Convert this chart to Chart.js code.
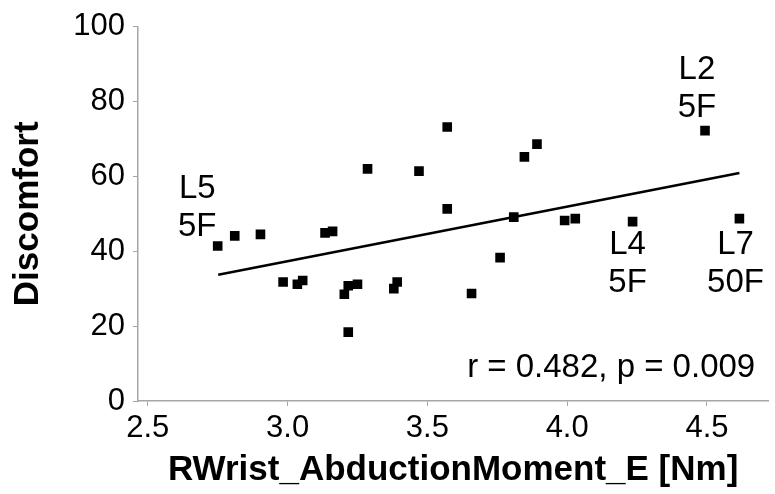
<!DOCTYPE html>
<html>
<head>
<meta charset="utf-8">
<script src="https://cdn.jsdelivr.net/npm/chart.js@4/dist/chart.umd.min.js"></script>
<style>
  html, body { margin: 0; padding: 0; background: #fff; }
  #wrap { width: 775px; height: 494px; }
</style>
</head>
<body>
<div id="wrap"><canvas id="ch1" width="775" height="494"></canvas></div>
<script>
'use strict';

// moment vs discomfort
const momentX = [2.750, 2.811, 2.903, 2.984, 3.035, 3.054, 3.134, 3.161, 3.203, 3.217,
                 3.250, 3.217, 3.286, 3.380, 3.392, 3.470, 3.571, 3.571, 3.658, 3.760,
                 3.809, 3.847, 3.892, 3.991, 4.029, 4.234, 4.493, 4.616];
const discomfortY = [41.4, 44.1, 44.5, 31.8, 31.2, 32.2, 44.9, 45.3, 28.5, 30.8,
                     31.2, 18.4, 62.0, 30.0, 31.8, 61.4, 73.2, 51.3, 28.7, 38.3,
                     49.1, 65.2, 68.6, 48.2, 48.7, 47.9, 72.2, 48.7];

// regression line end points
const fitX = [2.752, 4.616];
const fitY = [33.7, 60.9];

const xTicks = [2.5, 3.0, 3.5, 4.0, 4.5];
const yTicks = [0, 20, 40, 60, 80, 100];

// text labels: [x, y of first baseline, lines]
const notes = [
  [2.677, 54.1, ['L5', '5F']],
  [4.464, 86.0, ['L2', '5F']],
  [4.216, 39.3, ['L4', '5F']],
  [4.602, 39.3, ['L7', '50F']]
];
const statText = 'r = 0.482, p = 0.009';

const FONT = "'Liberation Sans', Arial, sans-serif";
const AXIS = '#a6a6a6';

const notePlugin = {
  id: 'notes',
  afterDatasetsDraw(chart) {
    const { ctx, scales: { x, y } } = chart;
    ctx.save();
    ctx.fillStyle = '#000';
    ctx.font = '33px ' + FONT;
    ctx.textAlign = 'center';
    ctx.textBaseline = 'alphabetic';
    notes.forEach(n => {
      const px = x.getPixelForValue(n[0]);
      const py = y.getPixelForValue(n[1]);
      n[2].forEach((t, i) => ctx.fillText(t, px, py + i * 38));
    });
    ctx.textAlign = 'right';
    ctx.fillText(statText, chart.chartArea.right - 13, y.getPixelForValue(0) - 24);
    ctx.restore();
  }
};

const pts = momentX.map((v, i) => ({ x: v, y: discomfortY[i] }));
const fit = fitX.map((v, i) => ({ x: v, y: fitY[i] }));

new Chart(document.getElementById('ch1').getContext('2d'), {
  type: 'scatter',
  data: {
    datasets: [
      { label: 'fit', data: fit, showLine: true, borderColor: '#000', borderWidth: 2.5,
        pointRadius: 0, fill: false, order: 2 },
      { label: 'Discomfort', data: pts, pointStyle: 'rect', pointRadius: 6.8,
        backgroundColor: '#000', borderWidth: 0, order: 1 }
    ]
  },
  options: {
    responsive: false,
    animation: false,
    layout: { padding: { top: 24, right: 0, left: 0, bottom: 0 } },
    plugins: { legend: { display: false }, tooltip: { enabled: false } },
    scales: {
      x: {
        type: 'linear', min: 2.465, max: 4.719,
        afterBuildTicks: s => { s.ticks = xTicks.map(v => ({ value: v })); },
        afterFit: s => { s.height = 93; },
        border: { color: AXIS, width: 1.5 },
        grid: { drawOnChartArea: false, color: AXIS, tickLength: 5 },
        ticks: { color: '#000', font: { family: FONT, size: 31 }, padding: 4, maxRotation: 0,
                 callback: v => Number(v).toFixed(1) },
        title: { display: true, text: 'RWrist_AbductionMoment_E [Nm]', color: '#000',
                 font: { family: FONT, size: 35, weight: 'bold' }, padding: { top: 0, bottom: 3 } }
      },
      y: {
        min: 0, max: 100,
        afterBuildTicks: s => { s.ticks = yTicks.map(v => ({ value: v })); },
        afterFit: s => { s.width = 138; },
        border: { color: AXIS, width: 1.5 },
        grid: { drawOnChartArea: false, color: AXIS, tickLength: 5 },
        ticks: { color: '#000', font: { family: FONT, size: 31 }, padding: 8 },
        title: { display: true, text: 'Discomfort', color: '#000',
                 font: { family: FONT, size: 35, weight: 'bold' }, padding: { top: 7, bottom: 0 } }
      }
    }
  },
  plugins: [notePlugin]
});
</script>
</body>
</html>
